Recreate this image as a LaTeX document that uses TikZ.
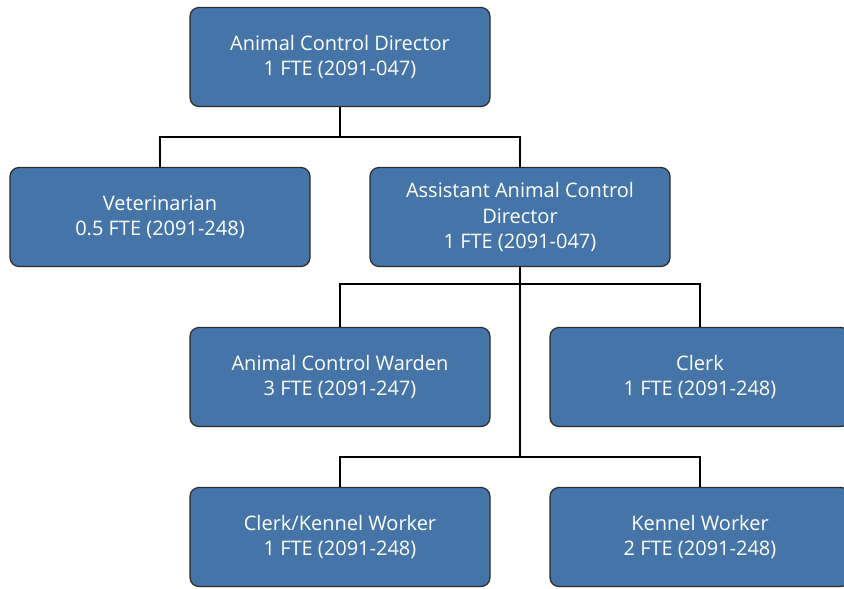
\documentclass[tikz,border=0pt]{standalone}
\usepackage{fontspec}
\setmainfont{Open Sans}
\definecolor{boxfill}{HTML}{4575A8}
\definecolor{boxline}{HTML}{2B2B2B}
\begin{document}
\begin{tikzpicture}[x=1pt,y=-1pt,
  orgbox/.style={rectangle, rounded corners=9pt, draw=boxline, line width=1.2pt,
    fill=boxfill, text=white, align=center, minimum width=300pt, minimum height=99pt,
    inner sep=0pt, font=\fontsize{20}{25.5}\selectfont},
  link/.style={draw=black, line width=2.6pt}]
\useasboundingbox (0,0) rectangle (844,589);
\clip (0,0) rectangle (844,589);
\node[orgbox] (dir) at (340,57) {Animal Control Director\\1 FTE (2091-047)};
\node[orgbox] (vet) at (160,217) {Veterinarian\\0.5 FTE (2091-248)};
\node[orgbox] (asst) at (520,217) {Assistant Animal Control\\Director\\1 FTE (2091-047)};
\node[orgbox] (warden) at (340,377) {Animal Control Warden\\3 FTE (2091-247)};
\node[orgbox] (clerk) at (700,377) {Clerk\\1 FTE (2091-248)};
\node[orgbox] (ck) at (340,537) {Clerk/Kennel Worker\\1 FTE (2091-248)};
\node[orgbox] (kw) at (700,537) {Kennel Worker\\2 FTE (2091-248)};
\coordinate (j0) at (340,137);
\coordinate (j1) at (520,284);
\coordinate (j2) at (520,457);
\path[link] (dir.south) -- (j0);
\path[link] (j0) -| (vet.north);
\path[link] (j0) -| (asst.north);
\path[link] (asst.south) -- (j2);
\path[link] (j1) -| (warden.north);
\path[link] (j1) -| (clerk.north);
\path[link] (j2) -| (ck.north);
\path[link] (j2) -| (kw.north);
\end{tikzpicture}
\end{document}
